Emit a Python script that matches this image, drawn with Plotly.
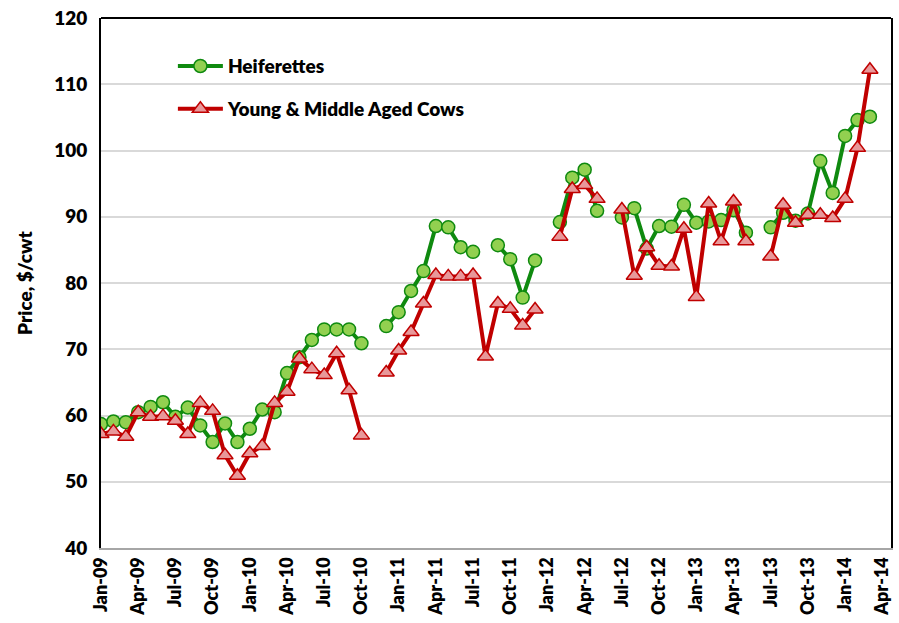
import plotly.graph_objects as go

# Months from Jan-09 (index 0) to Mar-14 (index 62)
month_idx = list(range(63))

heiferettes = [
    58.7, 59.1, 59.0, 60.5, 61.3, 62.0, 59.8, 61.2, 58.5, 56.0, 58.8, 56.0,   # 2009
    58.0, 60.9, 60.5, 66.4, 68.8, 71.4, 73.0, 73.0, 73.0, 70.9, None, 73.5,   # 2010
    75.6, 78.8, 81.8, 88.6, 88.4, 85.4, 84.7, None, 85.7, 83.6, 77.8, 83.4,   # 2011
    None, 89.2, 95.9, 97.1, 90.9, None, 89.9, 91.3, 85.2, 88.6, 88.5, 91.8,   # 2012
    89.1, 89.3, 89.5, 91.0, 87.6, None, 88.4, 90.6, 89.4, 90.5, 98.4, 93.6,   # 2013
    102.2, 104.6, 105.1,                                                      # 2014
]

cows = [
    57.2, 57.6, 56.8, 60.5, 59.8, 59.9, 59.2, 57.2, 61.9, 60.7, 54.0, 50.9,   # 2009
    54.3, 55.4, 61.9, 63.6, 68.6, 67.0, 66.1, 69.4, 63.8, 57.0, None, 66.5,   # 2010
    69.8, 72.6, 76.9, 81.2, 81.0, 81.0, 81.2, 68.9, 76.9, 76.1, 73.6, 76.0,   # 2011
    None, 87.0, 94.2, 94.8, 92.7, None, 91.1, 81.1, 85.4, 82.6, 82.5, 88.2,   # 2012
    77.9, 92.0, 86.3, 92.3, 86.3, None, 84.0, 91.8, 89.1, 90.3, 90.3, 89.8,   # 2013
    92.7, 100.4, 112.2,                                                       # 2014
]

tick_vals = list(range(0, 64, 3))
tick_text = [
    "Jan-09", "Apr-09", "Jul-09", "Oct-09",
    "Jan-10", "Apr-10", "Jul-10", "Oct-10",
    "Jan-11", "Apr-11", "Jul-11", "Oct-11",
    "Jan-12", "Apr-12", "Jul-12", "Oct-12",
    "Jan-13", "Apr-13", "Jul-13", "Oct-13",
    "Jan-14", "Apr-14",
]

FONT = "Lato, 'Liberation Sans', Arial, sans-serif"

fig = go.Figure()
fig.add_trace(go.Scatter(
    x=month_idx, y=heiferettes, name="Heiferettes", mode="lines+markers",
    line=dict(color="#0F8A0F", width=4),
    marker=dict(symbol="circle", size=13, color="#92D050",
                line=dict(color="#0F8A0F", width=1.5)),
    connectgaps=False, legendgroup="a",
))
fig.add_trace(go.Scatter(
    x=month_idx, y=cows, name="Young & Middle Aged Cows", mode="lines+markers",
    line=dict(color="#C00000", width=4),
    marker=dict(symbol="triangle-up", size=14, color="#E8989A",
                line=dict(color="#C00000", width=1.5)),
    connectgaps=False, legendgroup="b",
))

fig.update_layout(
    width=899, height=623,
    margin=dict(l=101, r=6, t=15, b=75),
    paper_bgcolor="white", plot_bgcolor="white",
    font=dict(family=FONT, color="black"),
    showlegend=True,
    legend=dict(
        x=0.091, y=0.945, xanchor="left", yanchor="top",
        bgcolor="rgba(0,0,0,0)", borderwidth=0,
        font=dict(family=FONT, size=19, color="black", weight=800),
        itemwidth=45, traceorder="grouped", tracegroupgap=15,
    ),
    xaxis=dict(
        range=[0, 63.7], tickmode="array", tickvals=tick_vals, ticktext=tick_text,
        tickangle=-90, showgrid=False, zeroline=False,
        showline=True, linecolor="#A6A6A6", linewidth=2, ticks="",
        tickfont=dict(family=FONT, size=18, color="black", weight=800),
    ),
    yaxis=dict(
        range=[40, 120], dtick=10, tick0=40,
        showgrid=True, gridcolor="#D9D9D9", gridwidth=1.5, zeroline=False,
        showline=True, linecolor="black", linewidth=2, mirror=True, ticks="",
        ticklabelstandoff=8,
        tickfont=dict(family=FONT, size=19, color="black", weight=800),
        title=dict(text="Price, $/cwt", standoff=16,
                   font=dict(family=FONT, size=19, color="black", weight=800)),
    ),
    shapes=[dict(type="line", xref="paper", yref="paper", x0=0, x1=1, y0=1, y1=1,
                 line=dict(color="black", width=2))],
)

fig.write_html("out.html")
